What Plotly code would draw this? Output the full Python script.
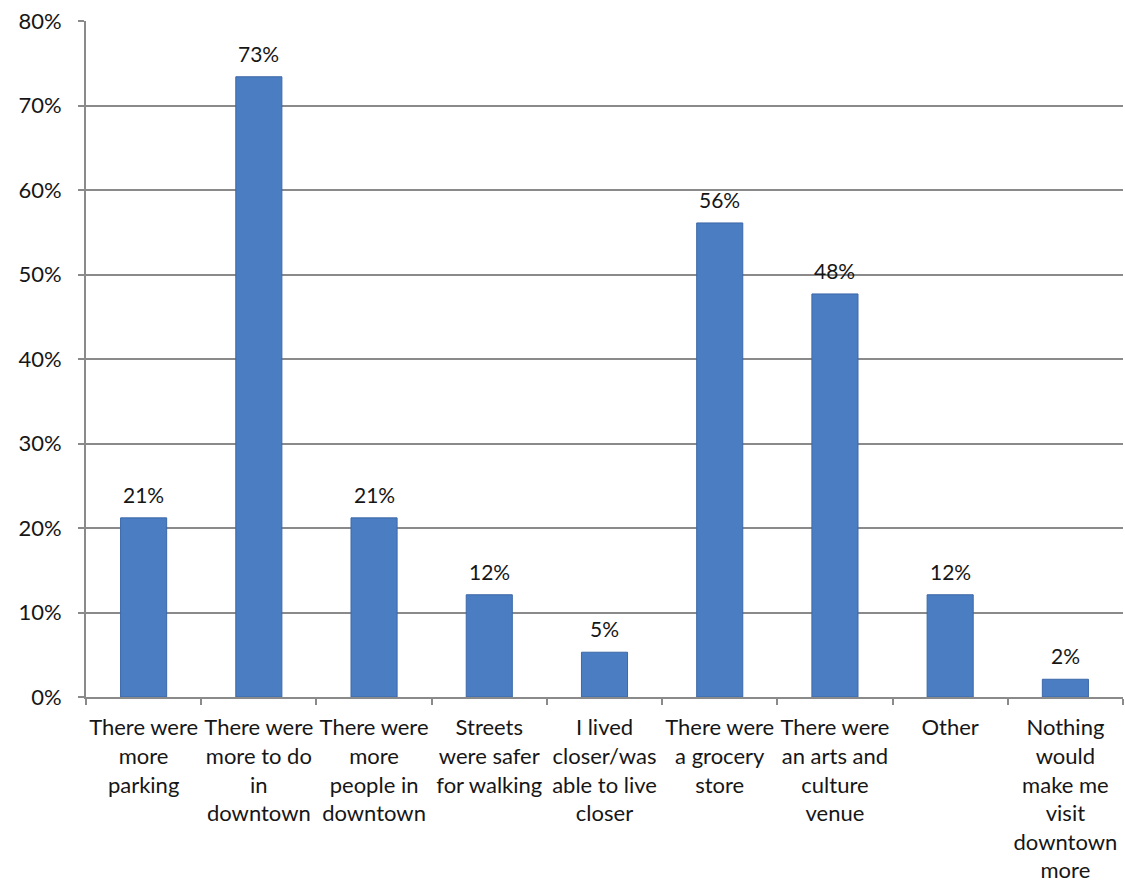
import plotly.graph_objects as go

categories = [
    "There were<br>more<br>parking",
    "There were<br>more to do<br>in<br>downtown",
    "There were<br>more<br>people in<br>downtown",
    "Streets<br>were safer<br>for walking",
    "I lived<br>closer/was<br>able to live<br>closer",
    "There were<br>a grocery<br>store",
    "There were<br>an arts and<br>culture<br>venue",
    "Other",
    "Nothing<br>would<br>make me<br>visit<br>downtown<br>more",
]
values = [0.212, 0.734, 0.212, 0.121, 0.053, 0.561, 0.477, 0.121, 0.021]
tick_vals = [0, 0.1, 0.2, 0.3, 0.4, 0.5, 0.6, 0.7, 0.8]

FONT = "Lato, 'Open Sans', sans-serif"
TXT = "#161616"

fig = go.Figure(
    go.Bar(
        x=categories,
        y=values,
        width=0.4,
        marker=dict(color="#4A7DC1", line=dict(color="#3C68A8", width=1)),
        cliponaxis=False,
    )
)

for c, v in zip(categories, values):
    fig.add_annotation(
        x=c, y=v, text=f"{round(v*100):.0f}%",
        showarrow=False, yanchor="bottom", yshift=9,
        font=dict(family=FONT, size=21, color=TXT),
    )

fig.update_layout(
    width=1125,
    height=889,
    margin=dict(l=86, r=2, t=21, b=192),
    paper_bgcolor="white",
    plot_bgcolor="white",
    showlegend=False,
    font=dict(family=FONT, size=22, color=TXT),
    bargap=0.6,
)
fig.update_xaxes(
    showline=True,
    linecolor="#8a8a8a",
    linewidth=2,
    ticks="outside",
    tickson="boundaries",
    ticklen=6,
    tickcolor="#8a8a8a",
    tickwidth=1.5,
    tickangle=0,
    ticklabelstandoff=10,
    tickfont=dict(family=FONT, size=22, color=TXT),
    showgrid=False,
)
fig.update_yaxes(
    range=[0, 0.8],
    tickvals=tick_vals,
    tickformat=".0%",
    showline=True,
    linecolor="#8a8a8a",
    linewidth=2,
    ticks="outside",
    ticklen=6,
    tickcolor="#8a8a8a",
    tickwidth=1.5,
    ticklabelstandoff=12,
    showgrid=True,
    gridcolor="#8a8a8a",
    gridwidth=1.5,
    zeroline=False,
    tickfont=dict(family=FONT, size=22, color=TXT),
)

fig.write_html("out.html")
